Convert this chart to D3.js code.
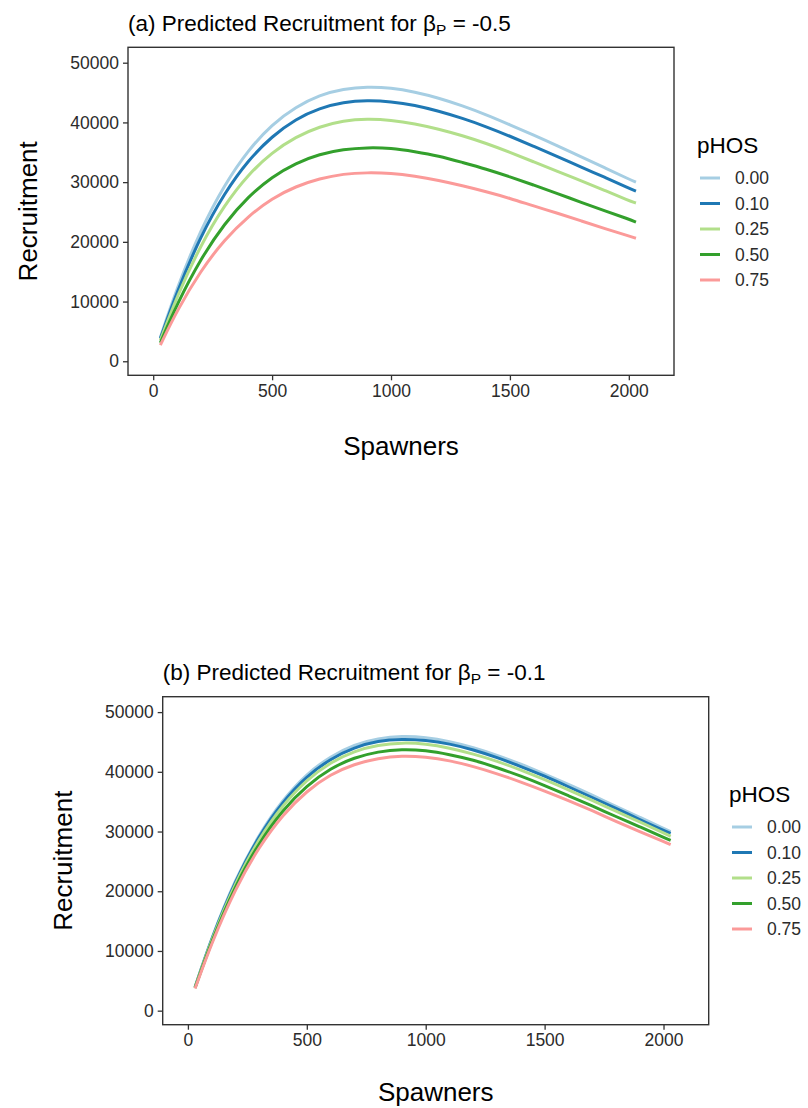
<!DOCTYPE html>
<html>
<head>
<meta charset="utf-8">
<script src="https://cdn.jsdelivr.net/npm/d3@7"></script>
<style>
	body { margin: 0; background: #fff; }
	svg text { font-family: "Liberation Sans", Arial, sans-serif; }
</style>
</head>
<body>
<div id="main_node"></div>
<script>
// spawner values where the curves were read
var spawners = [30, 100, 200, 300, 400, 500, 600, 700, 800, 900, 1000, 1100, 1200, 1300, 1400, 1500, 1600, 1700, 1800, 1900, 2000, 2030];

var phosLevels = ["0.00", "0.10", "0.25", "0.50", "0.75"];
var phosColors = ["#A6CEE3", "#1F78B4", "#B2DF8A", "#33A02C", "#FB9A99"];

var xTicks = [0, 500, 1000, 1500, 2000];
var yTicks = [0, 10000, 20000, 30000, 40000, 50000];

// panel (a), beta_P = -0.5
var recA_000 = [4000, 12300, 22100, 29600, 35400, 39700, 42600, 44600, 45600, 46000, 45800, 45100, 44100, 42800, 41300, 39600, 37900, 36100, 34200, 32400, 30500, 30000];
var recA_010 = [3800, 11700, 21000, 28200, 33700, 37700, 40600, 42400, 43400, 43700, 43500, 42900, 41900, 40700, 39300, 37700, 36000, 34300, 32500, 30800, 29000, 28500];
var recA_025 = [3500, 10900, 19500, 26200, 31300, 35000, 37600, 39300, 40300, 40600, 40400, 39800, 38900, 37800, 36500, 35000, 33400, 31800, 30200, 28600, 26900, 26500];
var recA_050 = [3100, 9600, 17200, 23100, 27600, 30900, 33200, 34700, 35500, 35800, 35700, 35100, 34400, 33300, 32200, 30900, 29500, 28100, 26600, 25200, 23800, 23300];
var recA_075 = [2700, 8500, 15200, 20400, 24300, 27300, 29300, 30600, 31400, 31600, 31500, 31000, 30300, 29400, 28400, 27300, 26000, 24800, 23500, 22200, 21000, 20600];

// panel (b), beta_P = -0.1
var recB_000 = [4000, 12300, 22100, 29600, 35400, 39700, 42600, 44600, 45600, 46000, 45800, 45100, 44100, 42800, 41300, 39600, 37900, 36100, 34200, 32400, 30500, 30000];
var recB_010 = [3900, 12200, 21800, 29400, 35100, 39300, 42200, 44100, 45200, 45500, 45300, 44700, 43700, 42400, 40900, 39300, 37500, 35700, 33900, 32000, 30200, 29700];
var recB_025 = [3900, 12000, 21500, 28900, 34500, 38700, 41600, 43500, 44500, 44900, 44700, 44000, 43000, 41800, 40300, 38700, 37000, 35200, 33400, 31600, 29800, 29200];
var recB_050 = [3800, 11700, 21000, 28200, 33700, 37700, 40600, 42400, 43400, 43800, 43600, 42900, 42000, 40700, 39300, 37700, 36000, 34300, 32500, 30800, 29000, 28500];
var recB_075 = [3700, 11400, 20500, 27500, 32900, 36800, 39600, 41300, 42300, 42700, 42500, 41900, 40900, 39700, 38300, 36800, 35200, 33500, 31700, 30000, 28300, 27800];

var panels = [
	{
		letter: "(a)",
		beta: "-0.5",
		series: [recA_000, recA_010, recA_025, recA_050, recA_075],
		left: 128,
		top: 47.3,
		xTitleGap: 80,
		legendX: 697,
		legendTitleY: 153,
		legendKeyY: 178,
	},
	{
		letter: "(b)",
		beta: "-0.1",
		series: [recB_000, recB_010, recB_025, recB_050, recB_075],
		left: 162.7,
		top: 696.7,
		xTitleGap: 76,
		legendX: 729,
		legendTitleY: 802,
		legendKeyY: 827,
	},
];

var plotW = 546,
	plotH = 328;

var svg = d3
	.select("#main_node")
	.append("svg")
	.attr("width", 808)
	.attr("height", 1108);

var x = d3.scaleLinear().domain([-106, 2190]).range([0, plotW]);
var y = d3.scaleLinear().domain([-2350, 52580]).range([plotH, 0]);

var line = d3
	.line()
	.x(function (d) {
		return x(d[0]);
	})
	.y(function (d) {
		return y(d[1]);
	})
	.curve(d3.curveBasis);

panels.forEach(function (p) {
	var g = svg.append("g").attr("transform", "translate(" + p.left + "," + p.top + ")");

	// title with subscript P on beta
	var title = g
		.append("text")
		.attr("x", 0)
		.attr("y", -16.5)
		.attr("font-size", "22.5px")
		.attr("fill", "#000");
	title.append("tspan").text(p.letter + " Predicted Recruitment for \u03B2");
	title.append("tspan").attr("font-size", "15.5px").attr("dy", 4).text("P");
	title.append("tspan").attr("dy", -4).text(" = " + p.beta);

	// curves
	p.series.forEach(function (vals, i) {
		var pts = spawners.map(function (s, j) {
			return [s, vals[j]];
		});
		g.append("path")
			.datum(pts)
			.attr("d", line)
			.attr("fill", "none")
			.attr("stroke", phosColors[i])
			.attr("stroke-width", 3);
	});

	// axes
	var xAxis = g
		.append("g")
		.attr("transform", "translate(0," + plotH + ")")
		.call(d3.axisBottom(x).tickValues(xTicks).tickSize(5).tickPadding(4).tickFormat(d3.format("d")));
	var yAxis = g.append("g").call(d3.axisLeft(y).tickValues(yTicks).tickSize(5).tickPadding(4).tickFormat(d3.format("d")));

	[xAxis, yAxis].forEach(function (ax) {
		ax.select(".domain").remove();
		ax.selectAll(".tick line").attr("stroke", "#333").attr("stroke-width", 1.3);
		ax.selectAll(".tick text")
			.attr("fill", "#2b2b2b")
			.attr("font-size", "17.5px")
			.attr("font-family", "Liberation Sans, Arial, sans-serif");
	});

	g.append("rect")
		.attr("width", plotW)
		.attr("height", plotH)
		.attr("fill", "none")
		.attr("stroke", "#333")
		.attr("stroke-width", 1.4);

	// axis titles
	g.append("text")
		.attr("x", plotW / 2)
		.attr("y", plotH + p.xTitleGap)
		.attr("text-anchor", "middle")
		.attr("font-size", "26px")
		.text("Spawners");

	g.append("text")
		.attr("transform", "translate(" + -91 + "," + plotH / 2 + ") rotate(-90)")
		.attr("text-anchor", "middle")
		.attr("font-size", "26px")
		.text("Recruitment");

	// legend
	svg.append("text")
		.attr("x", p.legendX)
		.attr("y", p.legendTitleY)
		.attr("font-size", "22.5px")
		.text("pHOS");

	phosLevels.forEach(function (lab, i) {
		var ky = p.legendKeyY + i * 25.5;
		svg.append("line")
			.attr("x1", p.legendX + 3)
			.attr("x2", p.legendX + 23)
			.attr("y1", ky)
			.attr("y2", ky)
			.attr("stroke", phosColors[i])
			.attr("stroke-width", 3);
		svg.append("text")
			.attr("x", p.legendX + 38)
			.attr("y", ky)
			.attr("dy", "0.35em")
			.attr("font-size", "17.5px")
			.attr("fill", "#2b2b2b")
			.text(lab);
	});
});
</script>
</body>
</html>
